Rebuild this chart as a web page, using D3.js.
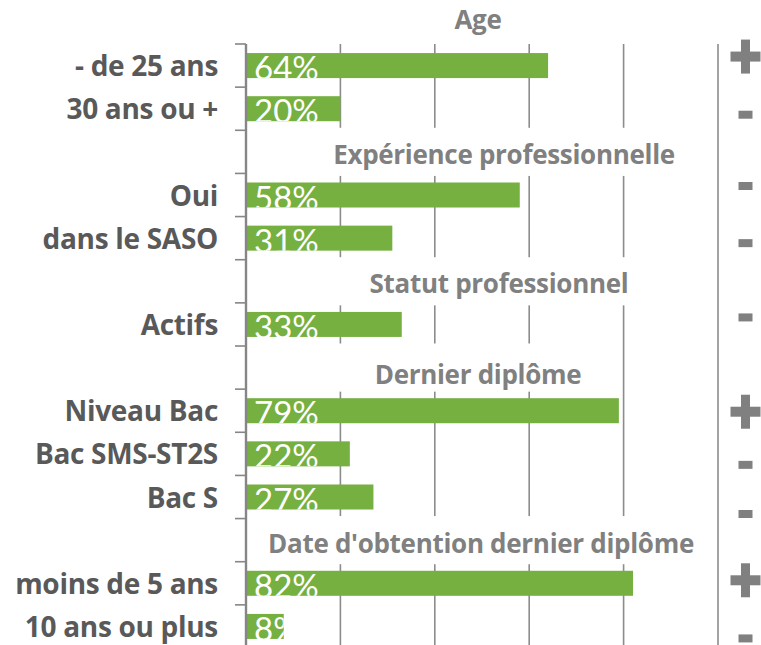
<!DOCTYPE html>
<html>
<head>
<meta charset="utf-8">
<script src="https://cdn.jsdelivr.net/npm/d3@7"></script>
<style>
  html, body { margin: 0; padding: 0; background: #fff; }
  svg { display: block; font-family: Lato, "Open Sans", sans-serif; }
  .label { font-family: "Open Sans", Lato, sans-serif; }
</style>
</head>
<body>
<svg id="chart" width="761" height="645"></svg>
<script>
// rows of the category axis, top to bottom ("" = section title row)
const categories = [
  '- de 25 ans', '30 ans ou +', '',
  'Oui', 'dans le SASO', '',
  'Actifs', '',
  'Niveau Bac', 'Bac SMS-ST2S', 'Bac S', '',
  'moins de 5 ans', '10 ans ou plus',
];
const values = [64, 20, null, 58, 31, null, 33, null, 79, 22, 27, null, 82, 8];
const signs = ['+', '-', null, '-', '-', null, '-', null, '+', '-', '-', null, '+', '-'];
const sections = ['Age', 'Expérience professionnelle', 'Statut professionnel', 'Dernier diplôme', "Date d'obtention dernier diplôme"];
const sectionRows = [-1, 2, 5, 7, 11];
const xTicks = [0, 20, 40, 60, 80, 100];

const Chart = class {
  static WIDTH = 761;
  static HEIGHT = 645;
  static X_RANGE = [246, 718];
  static Y_RANGE = [44, 648];
  static GREEN = '#76b041';
  static GRID = '#8c8c8c';

  // title text boxes (centre x, baseline nudge, white box extent)
  static SECTION_LAYOUT = [
    {cx: 478, dy: 7, x0: 0, x1: 0},
    {cx: 504, dy: 12, x0: 320, x1: 700},
    {cx: 499, dy: 12, x0: 330, x1: 640},
    {cx: 478, dy: 16, x0: 335, x1: 612},
    {cx: 481, dy: 13, x0: 249, x1: 705},
  ];
  // hand placed +/- marks, nudge from the row centre
  static SIGN_NUDGE = [-9, 6, 0, -9, 5, 0, -7, 0, 1, 11, 17, 0, -3, 12];

  constructor(selector) {
    this.svg = d3.select(selector);
    this.scale = {
      x: d3.scaleLinear().domain([0, 100]).range(this.constructor.X_RANGE),
      y: d3.scaleBand().domain(d3.range(categories.length))
        .range(this.constructor.Y_RANGE).paddingInner(0.42).paddingOuter(0.21),
    };
  }

  rowCenter(i) {
    const step = this.scale.y.step();
    return this.constructor.Y_RANGE[0] + step * (i + 0.5);
  }

  rowTop(i) {
    return this.constructor.Y_RANGE[0] + this.scale.y.step() * i;
  }

  drawGrid() {
    const x = this.scale.x;
    const [y0, y1] = this.constructor.Y_RANGE;
    this.svg.append('g')
      .selectAll('line')
      .data(xTicks.slice(1))
      .join('line')
      .attr('x1', (d) => x(d)).attr('x2', (d) => x(d))
      .attr('y1', y0).attr('y2', y1)
      .attr('stroke', this.constructor.GRID)
      .attr('stroke-width', 1.6);
  }

  drawSectionBoxes() {
    const layout = this.constructor.SECTION_LAYOUT;
    const step = this.scale.y.step();
    this.svg.append('g')
      .selectAll('rect')
      .data(sectionRows.map((row, i) => ({row, lay: layout[i]})).filter((d) => d.row >= 0))
      .join('rect')
      .attr('x', (d) => d.lay.x0)
      .attr('width', (d) => d.lay.x1 - d.lay.x0)
      .attr('y', (d) => this.rowTop(d.row) - 2.5)
      .attr('height', step + 5)
      .attr('fill', '#fff');
  }

  drawAxis() {
    // ticks sit between categories
    const g = this.svg.append('g')
      .attr('transform', `translate(${this.scale.x(0)},0)`);
    g.append('path')
      .attr('d', `M0,${this.constructor.Y_RANGE[0]}V${this.constructor.Y_RANGE[1]}`)
      .attr('stroke', '#868686').attr('stroke-width', 2.4);
    g.selectAll('line.tick')
      .data(d3.range(categories.length + 1))
      .join('line')
      .attr('class', 'tick')
      .attr('x1', -11).attr('x2', 0)
      .attr('y1', (i) => this.rowTop(i)).attr('y2', (i) => this.rowTop(i))
      .attr('stroke', '#868686').attr('stroke-width', 1.6);

    this.svg.append('g')
      .selectAll('text')
      .data(categories.map((c, i) => ({c, i})).filter((d) => d.c))
      .join('text')
      .attr('class', 'label')
      .attr('x', 218)
      .attr('y', (d) => this.rowCenter(d.i) + 10.5)
      .attr('text-anchor', 'end')
      .attr('font-weight', 700)
      .attr('font-size', 28)
      .attr('letter-spacing', -0.3)
      .attr('fill', '#595959')
      .text((d) => d.c);
  }

  drawBars() {
    const x = this.scale.x;
    const y = this.scale.y;
    const bars = values.map((v, i) => ({v, i})).filter((d) => d.v !== null);
    const defs = this.svg.append('defs');
    defs.selectAll('clipPath')
      .data(bars)
      .join('clipPath')
      .attr('id', (d) => `bar-clip-${d.i}`)
      .append('rect')
      .attr('x', x(0)).attr('y', (d) => y(d.i))
      .attr('width', (d) => x(d.v) - x(0))
      .attr('height', y.bandwidth());

    const g = this.svg.append('g');
    g.selectAll('rect')
      .data(bars)
      .join('rect')
      .attr('x', x(0) + 1)
      .attr('y', (d) => y(d.i))
      .attr('width', (d) => x(d.v) - x(0) - 1)
      .attr('height', y.bandwidth())
      .attr('fill', this.constructor.GREEN);

    g.selectAll('text')
      .data(bars)
      .join('text')
      .attr('clip-path', (d) => `url(#bar-clip-${d.i})`)
      .attr('x', x(0) + 8)
      .attr('y', (d) => y(d.i) + y.bandwidth() + 2)
      .attr('font-size', 33)
      .attr('fill', '#fff')
      .text((d) => `${d.v}%`);
  }

  drawSections() {
    const layout = this.constructor.SECTION_LAYOUT;
    this.svg.append('g')
      .selectAll('text')
      .data(sections.map((s, i) => ({s, row: sectionRows[i], lay: layout[i]})))
      .join('text')
      .attr('class', 'label')
      .attr('x', (d) => d.lay.cx)
      .attr('y', (d) => this.rowCenter(d.row) + d.lay.dy)
      .attr('text-anchor', 'middle')
      .attr('font-weight', 700)
      .attr('font-size', 26)
      .attr('letter-spacing', -0.3)
      .attr('fill', '#808080')
      .text((d) => d.s);
  }

  drawSigns() {
    const nudge = this.constructor.SIGN_NUDGE;
    const cx = 745.5;
    const marks = signs.map((s, i) => ({s, i})).filter((d) => d.s);
    const g = this.svg.append('g').attr('fill', '#808080');
    marks.forEach((d) => {
      const cy = this.rowCenter(d.i) + nudge[d.i];
      if (d.s === '+') {
        g.append('rect').attr('x', cx - 15).attr('y', cy - 5).attr('width', 30).attr('height', 10);
        g.append('rect').attr('x', cx - 4.5).attr('y', cy - 17).attr('width', 9).attr('height', 34);
      } else {
        g.append('rect').attr('x', cx - 7).attr('y', cy - 4).attr('width', 14).attr('height', 8);
      }
    });
  }

  draw() {
    this.drawGrid();
    this.drawSectionBoxes();
    this.drawBars();
    this.drawAxis();
    this.drawSections();
    this.drawSigns();
  }
};

const chart = new Chart('#chart');
chart.draw();
</script>
</body>
</html>
